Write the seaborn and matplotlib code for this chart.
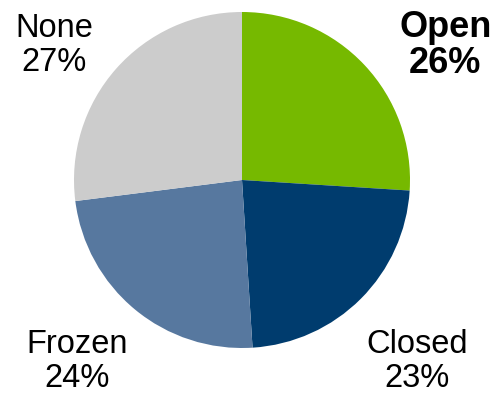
import matplotlib
matplotlib.use("Agg")
import matplotlib.pyplot as plt
import seaborn as sns

categories = ["Open", "Closed", "Frozen", "None"]
shares = [26, 23, 24, 27]
colors = ["#76b900", "#003c6e", "#57789f", "#cccccc"]

sns.set_theme(style="white")
plt.rcParams["font.family"] = ["Liberation Sans", "DejaVu Sans"]

fig = plt.figure(figsize=(4.98, 3.98), dpi=100)
# pie centred at (242, 180) px with radius 168 px
ax = fig.add_axes([74 / 498, 50 / 398, 336 / 498, 336 / 398])

ax.pie(shares, colors=sns.color_palette(colors), startangle=90, counterclock=False,
       wedgeprops=dict(linewidth=0))
ax.set_xlim(-1, 1)
ax.set_ylim(-1, 1)
ax.set_aspect("equal")
ax.axis("off")

label_pos = {"Open": (1.21, 0.80), "None": (-1.12, 0.80),
             "Frozen": (-0.98, -1.08), "Closed": (1.04, -1.08)}
for cat, val in zip(categories, shares):
    x, y = label_pos[cat]
    bold = cat == "Open"
    ax.text(x, y, f"{cat}\n{val}%", ha="center", va="center",
            fontsize=26 if bold else 23.5,
            fontweight="bold" if bold else "normal",
            linespacing=1.05 if bold else 1.1, color="black", clip_on=False)

fig.savefig("out.png", dpi=100)
